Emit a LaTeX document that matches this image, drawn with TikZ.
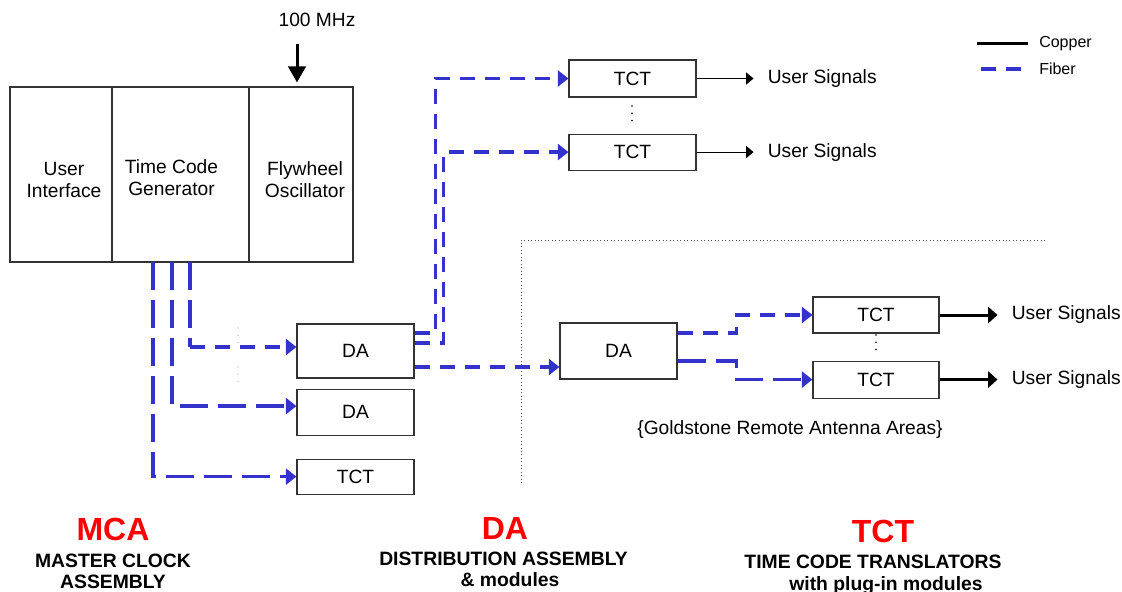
\documentclass[tikz,border=0pt]{standalone}
\usepackage{fontspec}
\setmainfont{Liberation Sans}
\usepackage{tikz}
\usetikzlibrary{arrows.meta,positioning,calc}
\definecolor{fibBlue}{HTML}{3333CC}
\definecolor{capRed}{HTML}{FF0000}
\definecolor{edgeGray}{HTML}{333333}

\begin{document}
\begin{tikzpicture}[x=0.75pt,y=-0.75pt,
  font=\fontsize{14.4}{16.5}\selectfont,
  cell/.style={draw=edgeGray,line width=0.8pt,inner sep=0pt,minimum height=131.25pt},
  box/.style={draw=edgeGray,line width=0.8pt,inner sep=0pt,minimum width=87.75pt},
  fiber/.style={draw=fibBlue,line width=2.6pt,dash pattern=on 11.25pt off 7.5pt,-{Triangle[length=8pt,width=12pt]}},
  fiberlong/.style={fiber,dash pattern=on 21pt off 7.5pt},
  copper/.style={line width=0.75pt,shorten >=10.5pt,-{Triangle[length=5.5pt,width=9pt]}},
  copperthick/.style={line width=2.25pt,shorten >=10.5pt,-{Triangle[length=7pt,width=12pt]}},
  more/.style={line width=1.3pt,line cap=round,dash pattern=on 0pt off 5.4pt},
  sig/.style={inner sep=0pt},
  legend/.style={anchor=west,inner sep=0pt,font=\fontsize{12}{14}\selectfont},
  title/.style={anchor=base,inner sep=0pt,text=capRed,font=\fontsize{24}{28}\selectfont\bfseries},
  caption/.style={anchor=base,inner sep=0pt,font=\fontsize{14.5}{17}\selectfont\bfseries}]
\useasboundingbox (0,0) rectangle (1122,592);

% master clock assembly
\node[cell,minimum width=76.5pt] (ui) at (61,174.5) {};
\node[cell,minimum width=102.75pt] (tcg) at (180.5,174.5) {};
\node[cell,minimum width=78pt] (osc) at (301,174.5) {};
\node[align=center] (uit) at (64,180) {User\\Interface};
\node[align=center] (tcgt) at (171.5,178) {Time Code\\Generator};
\node[align=center] (osct) at (305,180) {Flywheel\\Oscillator};
\node (mhz) at (317,20) {100 MHz};
\coordinate (ref) at (297,44);
\draw[line width=2.25pt,shorten >=3pt,-{Triangle[length=12pt,width=13pt]}] (ref) -- (ref |- osc.north);

% distribution assemblies and translators
\node[box,minimum height=40.5pt] (da1) at (355.5,351) {DA};
\node[box,minimum height=34.5pt,below=7.5pt of da1] (da2) {DA};
\node[box,minimum height=26.25pt,below=17.25pt of da2] (tcta) {TCT};
\node[box,minimum width=95.25pt,minimum height=27.75pt] (tct1) at (632.5,78.5) {TCT};
\node[box,minimum width=95.25pt,minimum height=27pt,below=27pt of tct1] (tct2) {TCT};
\node[box,minimum height=42pt] (da3) at (618.5,351) {DA};
\node[box,minimum width=94.5pt,minimum height=27pt] (tct3) at (876,315) {TCT};
\node[box,minimum width=94.5pt,minimum height=27.75pt,below=20.25pt of tct3] (tct4) {TCT};
\draw[more] (632,106) -- (632,121);
\draw[more] (876,335) -- (876,350);
\draw[more,fibBlue!25] (238,328) -- (238,343);
\draw[more,fibBlue!25] (238,367) -- (238,382);

\node[sig,right=53.25pt of tct1] (us1) {User Signals};
\node[sig,right=53.25pt of tct2] (us2) {User Signals};
\node[sig,right=54pt of tct3] (us3) {User Signals};
\node[sig,right=54pt of tct4] (us4) {User Signals};
\node (gold) at (790,430) {\{Goldstone Remote Antenna Areas\}};
\draw[dotted,line width=0.6pt,black!70] (521,483) -- (521,240) -- (1046,240);

% fiber links
\coordinate (tap1) at (153,262);
\coordinate (tap2) at (172,262);
\coordinate (tap3) at (190,262);
\coordinate (bend) at (190,347);
\draw[fiberlong] (tap1) |- (tcta.west);
\draw[fiberlong] (tap2) |- ([yshift=4.5pt]da2.west);
\draw[fiberlong,-] (tap3) -- (bend);
\draw[fiber] (bend) -- (bend -| da1.west);
\draw[fiber] ([yshift=13.5pt]da1.east) -- ++(21,0) |- (tct1.west);
\draw[fiber] ([yshift=6pt]da1.east) -- ++(29,0) |- (tct2.west);
\draw[fiber] ([yshift=-12pt]da1.east) -- ([yshift=-12pt]da3.west);
\draw[fiber] ([yshift=13.5pt]da3.east) -- ++(59,0) |- (tct3.west);
\draw[fiberlong] ([yshift=-7.5pt]da3.east) -- ++(59,0) |- (tct4.west);

% copper links
\draw[copper] (tct1.east) -- (tct1.east -| us1.west);
\draw[copper] (tct2.east) -- (tct2.east -| us2.west);
\draw[copperthick] (tct3.east) -- (tct3.east -| us3.west);
\draw[copperthick] (tct4.east) -- (tct4.east -| us4.west);

% legend
\node[legend] (lcu) at (1039,44) {Copper};
\node[legend] (lfi) at (1039,69) {Fiber};
\draw[line width=2.25pt] (977,44) -- (1028,44);
\draw[fiber,-] (981,69) -- (1021,69);

% captions
\node[title] (mca) at (113,540) {MCA};
\node[caption] (mca1) at (113,567) {MASTER CLOCK};
\node[caption] (mca2) at (113,588) {ASSEMBLY};
\node[title] (dat) at (505,539) {DA};
\node[caption] (dat1) at (503.5,565) {DISTRIBUTION ASSEMBLY};
\node[caption] (dat2) at (510,586) {\& modules};
\node[title] (tctt) at (883,542) {TCT};
\node[caption] (tctt1) at (873,568) {TIME CODE TRANSLATORS};
\node[caption] (tctt2) at (886,590) {with plug-in modules};
\end{tikzpicture}
\end{document}
